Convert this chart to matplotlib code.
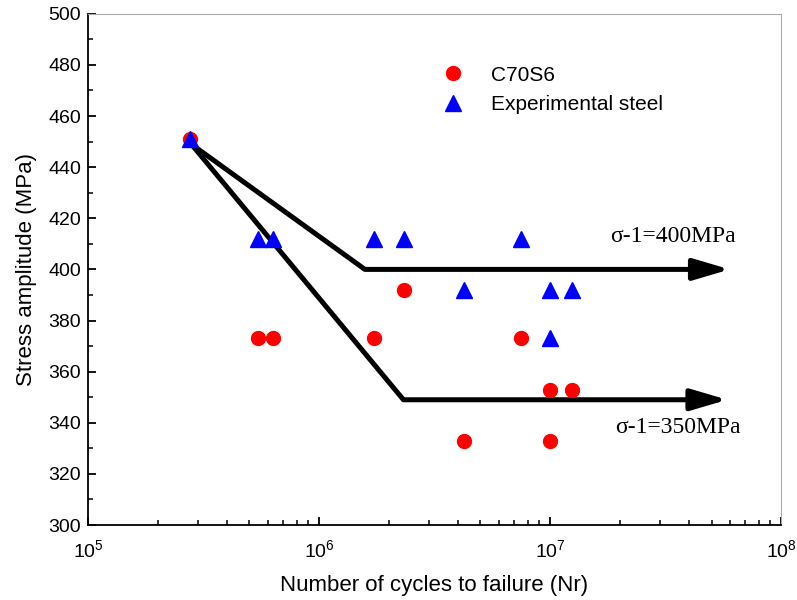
import numpy as np
import matplotlib
matplotlib.use("Agg")
import matplotlib.pyplot as plt

# data
c70_n = [2.76e5, 5.46e5, 6.3e5, 1.73e6, 2.34e6, 7.48e6, 1.0e7, 1.24e7, 4.26e6, 1.0e7]
c70_s = [451, 373, 373, 373, 392, 373, 353, 353, 333, 333]

exp_n = [2.76e5, 5.46e5, 6.3e5, 1.73e6, 2.34e6, 7.48e6, 4.26e6, 1.0e7, 1.24e7, 1.0e7]
exp_s = [451, 412, 412, 412, 412, 412, 392, 392, 392, 373]

# fatigue limit guide lines (knee points)
upper_n = [2.8e5, 1.58e6, 6.0e7]
upper_s = [449, 400, 400]
lower_n = [2.8e5, 2.32e6, 5.85e7]
lower_s = [449, 349, 349]

plt.rcParams['font.family'] = ['Liberation Sans', 'DejaVu Sans']

fig = plt.figure(figsize=(7.97, 6.0), dpi=100)
ax = fig.add_axes([0.1104, 0.125, 0.8696, 0.852])

ax.plot(c70_n, c70_s, 'o', color='red', markersize=10, label='C70S6', zorder=3)
ax.plot(exp_n, exp_s, '^', color='blue', markersize=11, label='Experimental steel', zorder=4)

for nn, ss in [(upper_n, upper_s), (lower_n, lower_s)]:
    ax.plot(nn[:2], ss[:2], '-', color='black', lw=3.6, solid_capstyle='butt', zorder=2)
    ax.annotate('', xy=(nn[2], ss[2]), xytext=(nn[1], ss[1]),
                arrowprops=dict(arrowstyle='-|>,head_length=22,head_width=6.5',
                                mutation_scale=1, lw=3.6, color='black',
                                shrinkA=0, shrinkB=0), zorder=2)

ax.text(1.82e7, 413, 'σ-1=400MPa', family=['Liberation Serif', 'DejaVu Serif'],
        fontsize=17, ha='left', va='center')
ax.text(1.91e7, 338, 'σ-1=350MPa', family=['Liberation Serif', 'DejaVu Serif'],
        fontsize=17, ha='left', va='center')

ax.set_xscale('log')
ax.set_xlim(1e5, 1e8)
ax.set_ylim(300, 500)
ax.set_yticks(np.arange(300, 501, 20))
ax.set_yticks(np.arange(300, 501, 10), minor=True)
ax.tick_params(which='both', direction='in', top=False, right=False, labelsize=14)
ax.tick_params(which='major', length=6, width=1.3)
ax.tick_params(which='minor', length=3.5, width=1.1)
ax.tick_params(axis='x', pad=10)
ax.tick_params(axis='y', pad=5)
for sp in ax.spines.values():
    sp.set_linewidth(1.3)
ax.spines['top'].set_color('#aaaaaa')
ax.spines['right'].set_color('#aaaaaa')
ax.spines['top'].set_linewidth(0.8)
ax.spines['right'].set_linewidth(0.8)

ax.set_xlabel('Number of cycles to failure (Nr)', fontsize=16, labelpad=10)
ax.set_ylabel('Stress amplitude (MPa)', fontsize=16, labelpad=8)

ax.legend(loc='upper left', bbox_to_anchor=(0.47, 0.935), frameon=False,
          fontsize=15, handletextpad=0.8, labelspacing=0.5)

fig.savefig('out.png', dpi=100)
